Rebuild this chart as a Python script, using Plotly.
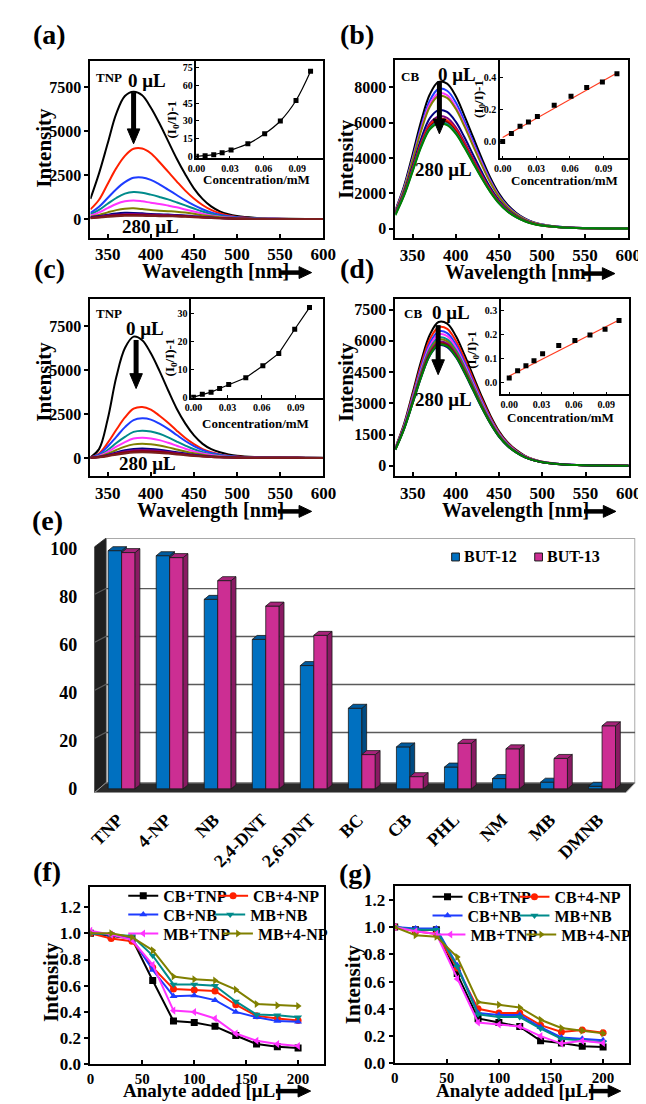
import plotly.graph_objects as go

FIG_W, FIG_H = 646, 1104
SERIF = "Liberation Serif, Times New Roman, serif"

# ---------------- data: emission spectra ----------------
WL = [330, 340, 350, 360, 370, 380, 390, 400, 410, 420, 430, 440, 450, 460, 470,
      480, 490, 500, 520, 540, 560, 580, 600]

SPEC_A = [
    [1150, 2600, 4300, 6000, 7000, 7250, 7050, 6350, 5450, 4450, 3450, 2550, 1750, 1150, 720, 440, 270, 170, 70, 35, 20, 10, 5],
    [550, 1100, 2000, 2900, 3600, 4000, 4020, 3750, 3250, 2700, 2150, 1620, 1170, 800, 520, 330, 200, 120, 50, 22, 10, 5, 0],
    [350, 700, 1200, 1700, 2100, 2350, 2370, 2230, 1980, 1680, 1370, 1060, 790, 560, 380, 250, 160, 100, 45, 20, 10, 5, 0],
    [260, 520, 870, 1200, 1450, 1540, 1500, 1390, 1260, 1120, 950, 780, 600, 430, 290, 190, 120, 75, 35, 15, 8, 4, 0],
    [200, 380, 620, 860, 1010, 1060, 1010, 930, 860, 770, 670, 550, 430, 310, 210, 140, 90, 55, 25, 12, 6, 3, 0],
    [130, 240, 380, 510, 590, 610, 570, 510, 480, 450, 420, 370, 300, 220, 160, 110, 70, 45, 20, 10, 5, 3, 0],
    [100, 170, 250, 320, 355, 350, 325, 295, 275, 255, 235, 205, 165, 125, 90, 60, 40, 25, 12, 6, 3, 2, 0],
    [80, 140, 200, 250, 280, 285, 270, 250, 235, 220, 205, 180, 145, 110, 80, 55, 35, 22, 10, 5, 3, 2, 0],
    [60, 110, 160, 200, 225, 230, 220, 205, 195, 185, 175, 155, 125, 95, 70, 50, 32, 20, 10, 5, 3, 2, 0],
    [50, 90, 130, 165, 185, 190, 185, 175, 165, 160, 150, 135, 110, 85, 62, 45, 30, 18, 9, 5, 3, 2, 0],
]
COLORS_A = ["#000000", "#FF2000", "#1E3CFF", "#008B8B", "#FF33FF", "#808000",
            "#000080", "#800080", "#8B0000", "#7A1E1E"]

SPEC_B = [
    [1050, 2400, 4200, 6100, 7600, 8300, 8200, 7500, 6400, 5200, 4000, 2900, 2000, 1350, 900, 580, 370, 240, 110, 50, 25, 12, 5],
    [1000, 2300, 4000, 5800, 7250, 7900, 7800, 7150, 6100, 4950, 3800, 2760, 1900, 1280, 850, 550, 350, 230, 105, 48, 24, 12, 5],
    [980, 2250, 3900, 5650, 7050, 7650, 7550, 6900, 5900, 4800, 3700, 2680, 1850, 1240, 830, 540, 340, 225, 100, 46, 23, 11, 5],
    [960, 2200, 3850, 5550, 6900, 7500, 7400, 6780, 5800, 4700, 3620, 2620, 1810, 1220, 810, 525, 335, 220, 100, 45, 22, 11, 5],
    [900, 2050, 3550, 5100, 6250, 6700, 6600, 6050, 5180, 4200, 3230, 2340, 1620, 1090, 730, 470, 300, 195, 90, 40, 20, 10, 5],
    [870, 1980, 3420, 4900, 5950, 6350, 6260, 5740, 4910, 3980, 3060, 2220, 1540, 1040, 690, 450, 285, 185, 85, 38, 19, 10, 5],
    [850, 1950, 3380, 4820, 5850, 6220, 6120, 5610, 4800, 3890, 2990, 2170, 1500, 1010, 675, 440, 280, 180, 83, 37, 18, 9, 4],
    [830, 1920, 3330, 4750, 5760, 6120, 6020, 5520, 4720, 3830, 2940, 2130, 1480, 995, 665, 430, 275, 178, 82, 37, 18, 9, 4],
    [810, 1890, 3280, 4680, 5680, 6020, 5920, 5430, 4640, 3760, 2890, 2100, 1450, 980, 655, 425, 270, 175, 80, 36, 18, 9, 4],
    [760, 1850, 3230, 4620, 5620, 5950, 5850, 5370, 4590, 3720, 2860, 2080, 1440, 970, 650, 420, 268, 173, 80, 36, 18, 9, 4],
]
COLORS_B = ["#000000", "#1E3CFF", "#FF33FF", "#808000", "#000080", "#800080",
            "#FF2000", "#8B0000", "#008B8B", "#008000"]

SPEC_C = [
    [30, 500, 2200, 4600, 6250, 6900, 6700, 5950, 4950, 3850, 2800, 1950, 1280, 800, 500, 320, 200, 120, 50, 25, 12, 6, 3],
    [20, 250, 850, 1600, 2300, 2800, 2900, 2750, 2400, 2000, 1550, 1130, 780, 500, 320, 200, 120, 75, 30, 15, 8, 4, 0],
    [15, 200, 650, 1200, 1750, 2150, 2250, 2180, 1950, 1650, 1300, 960, 670, 440, 280, 180, 110, 70, 30, 15, 8, 4, 0],
    [10, 140, 450, 850, 1200, 1480, 1550, 1500, 1370, 1170, 930, 700, 490, 330, 210, 135, 85, 55, 25, 12, 6, 3, 0],
    [8, 110, 340, 640, 900, 1100, 1150, 1110, 1010, 860, 690, 520, 370, 250, 160, 100, 65, 40, 18, 9, 5, 2, 0],
    [6, 80, 240, 450, 640, 770, 800, 770, 700, 600, 480, 360, 260, 175, 110, 70, 45, 28, 12, 6, 3, 2, 0],
    [5, 60, 170, 310, 430, 510, 530, 510, 465, 400, 320, 245, 175, 120, 78, 50, 32, 20, 9, 4, 2, 1, 0],
    [4, 50, 140, 260, 360, 430, 450, 435, 395, 340, 275, 210, 150, 100, 66, 42, 27, 17, 8, 4, 2, 1, 0],
    [3, 40, 120, 220, 305, 365, 380, 365, 335, 290, 235, 180, 130, 87, 57, 37, 24, 15, 7, 3, 2, 1, 0],
    [3, 35, 100, 185, 255, 305, 320, 310, 285, 245, 200, 152, 110, 74, 48, 31, 20, 13, 6, 3, 2, 1, 0],
]
COLORS_C = COLORS_A

SPEC_D = [
    [870, 2000, 3500, 5050, 6300, 6900, 6820, 6230, 5320, 4320, 3320, 2410, 1660, 1120, 750, 480, 310, 200, 92, 42, 21, 10, 4],
    [850, 1940, 3380, 4870, 6080, 6650, 6570, 6000, 5130, 4160, 3200, 2320, 1600, 1080, 720, 465, 300, 192, 88, 40, 20, 10, 4],
    [840, 1900, 3300, 4740, 5900, 6450, 6370, 5820, 4980, 4040, 3100, 2250, 1550, 1050, 700, 450, 290, 186, 86, 39, 19, 10, 4],
    [830, 1870, 3230, 4630, 5760, 6300, 6220, 5690, 4860, 3950, 3030, 2200, 1520, 1020, 685, 440, 283, 182, 84, 38, 19, 9, 4],
    [820, 1840, 3170, 4530, 5630, 6150, 6070, 5550, 4750, 3860, 2960, 2150, 1480, 1000, 670, 430, 276, 178, 82, 37, 18, 9, 4],
    [810, 1820, 3120, 4460, 5540, 6050, 5970, 5460, 4670, 3790, 2910, 2110, 1460, 985, 660, 423, 272, 175, 80, 36, 18, 9, 4],
    [800, 1800, 3080, 4390, 5450, 5950, 5870, 5370, 4590, 3730, 2860, 2080, 1430, 970, 650, 416, 267, 172, 79, 36, 18, 9, 4],
    [790, 1780, 3040, 4330, 5380, 5870, 5790, 5300, 4530, 3680, 2820, 2050, 1410, 955, 640, 410, 263, 170, 78, 35, 17, 9, 4],
    [780, 1760, 3000, 4270, 5300, 5780, 5700, 5220, 4460, 3620, 2780, 2020, 1390, 940, 630, 404, 259, 167, 77, 35, 17, 8, 4],
    [760, 1750, 3000, 4280, 5320, 5820, 5740, 5250, 4490, 3650, 2800, 2030, 1400, 945, 635, 406, 260, 168, 77, 35, 17, 8, 4],
]
COLORS_D = ["#000000", "#FF2000", "#1E3CFF", "#FF33FF", "#008B8B", "#808000",
            "#800080", "#8B0000", "#000080", "#008000"]

# ---------------- data: Stern-Volmer insets ----------------
CONC = [0, 0.0078, 0.0155, 0.023, 0.031, 0.046, 0.061, 0.075, 0.089, 0.102]
SV_A = [0.3, 0.8, 1.7, 3.3, 5.6, 10.8, 19.2, 30.0, 47.2, 71.7]
SV_B = [0.0, 0.05, 0.095, 0.12, 0.155, 0.225, 0.28, 0.335, 0.37, 0.42]
SV_C = [0.2, 1.2, 2.0, 3.3, 4.7, 7.1, 11.4, 15.8, 24.4, 32.1]
SV_D = [0.02, 0.05, 0.071, 0.091, 0.12, 0.154, 0.175, 0.198, 0.221, 0.258]
FIT_X = [0, 0.102]
FIT_B = [0.025, 0.425]
FIT_D = [0.028, 0.26]

# ---------------- data: quenching efficiency bars ----------------
ANALYTES = ["TNP", "4-NP", "NB", "2,4-DNT", "2,6-DNT", "BC", "CB", "PHL", "NM", "MB", "DMNB"]
BUT12 = [99.3, 97.2, 79.0, 62.3, 51.4, 33.6, 17.5, 9.1, 4.3, 2.8, 1.1]
BUT13 = [98.5, 96.4, 86.8, 76.2, 64.0, 14.3, 5.1, 19.0, 16.7, 12.7, 26.3]

# ---------------- data: competitive quenching ----------------
ADDED = [0, 20, 40, 60, 80, 100, 120, 140, 160, 180, 200]
MIX_NAMES = ["CB+TNP", "CB+4-NP", "CB+NB", "MB+NB", "MB+TNP", "MB+4-NP"]
MIX_COLORS = ["#000000", "#FF2000", "#1E3CFF", "#008B8B", "#FF33FF", "#808000"]
MIX_SYMBOLS = ["square", "circle", "triangle-up", "triangle-down", "triangle-left", "triangle-right"]
F_CB_TNP = [1.0, 0.98, 0.96, 0.64, 0.33, 0.32, 0.29, 0.22, 0.155, 0.135, 0.125]
F_CB_4NP = [1.0, 0.96, 0.94, 0.74, 0.575, 0.568, 0.56, 0.455, 0.37, 0.35, 0.335]
F_CB_NB = [1.0, 0.99, 0.96, 0.72, 0.52, 0.525, 0.49, 0.40, 0.36, 0.33, 0.325]
F_MB_NB = [1.0, 0.99, 0.98, 0.83, 0.61, 0.61, 0.60, 0.48, 0.38, 0.375, 0.36]
F_MB_TNP = [1.02, 0.99, 0.95, 0.76, 0.41, 0.40, 0.35, 0.235, 0.18, 0.155, 0.14]
F_MB_4NP = [1.0, 1.0, 0.97, 0.87, 0.67, 0.65, 0.64, 0.57, 0.46, 0.45, 0.445]
G_CB_TNP = [1.0, 0.98, 0.98, 0.66, 0.33, 0.30, 0.27, 0.165, 0.15, 0.125, 0.12]
G_CB_4NP = [1.0, 0.97, 0.95, 0.70, 0.40, 0.37, 0.37, 0.28, 0.23, 0.245, 0.225]
G_CB_NB = [1.0, 0.99, 0.99, 0.72, 0.37, 0.355, 0.355, 0.265, 0.19, 0.18, 0.17]
G_MB_NB = [1.0, 0.98, 0.98, 0.71, 0.36, 0.34, 0.34, 0.255, 0.18, 0.165, 0.155]
G_MB_TNP = [1.0, 0.97, 0.95, 0.62, 0.30, 0.285, 0.27, 0.20, 0.145, 0.165, 0.15]
G_MB_4NP = [1.0, 0.94, 0.93, 0.78, 0.45, 0.43, 0.41, 0.32, 0.26, 0.24, 0.22]
F_SERIES = [F_CB_TNP, F_CB_4NP, F_CB_NB, F_MB_NB, F_MB_TNP, F_MB_4NP]
G_SERIES = [G_CB_TNP, G_CB_4NP, G_CB_NB, G_MB_NB, G_MB_TNP, G_MB_4NP]

# ---------------- helpers ----------------
def PX(x):
    return x / FIG_W


def PY(y):
    return 1 - y / FIG_H


def dom_x(l, r):
    return [PX(l), PX(r)]


def dom_y(t, b):
    return [PY(b), PY(t)]


def tfont(size):
    return dict(family=SERIF, size=size, color="black", weight="bold")


def main_axis(domain, rng, tickvals, size, **kw):
    d = dict(domain=domain, range=rng, tickvals=tickvals, showline=True, linewidth=2,
             linecolor="black", mirror=True, ticks="outside", ticklen=4, tickwidth=1.5,
             tickcolor="black", showgrid=False, zeroline=False, tickfont=tfont(size))
    d.update(kw)
    return d


def inset_axis(domain, rng, tickvals, ticktext, **kw):
    d = dict(domain=domain, range=rng, tickvals=tickvals, ticktext=ticktext, showline=True,
             linewidth=1.5, linecolor="black", mirror=True, ticks="inside", ticklen=3,
             tickwidth=1, tickcolor="black", showgrid=False, zeroline=False, tickfont=tfont(10))
    d.update(kw)
    return d


def ann(text, x, y, size, angle=0, xanchor="center"):
    return dict(text="<b>" + text + "</b>", x=PX(x), y=PY(y), xref="paper", yref="paper",
                showarrow=False, font=dict(family=SERIF, size=size, color="black"),
                xanchor=xanchor, yanchor="middle", textangle=angle)


def arrow_shapes(xs, ys, xt, yt, shaft, head_w, head_l):
    dx, dy = xt - xs, yt - ys
    n = (dx * dx + dy * dy) ** 0.5
    ux, uy = dx / n, dy / n
    bx, by = xt - ux * head_l, yt - uy * head_l
    nx, ny = -uy, ux
    line = dict(type="line", xref="paper", yref="paper", x0=PX(xs), y0=PY(ys),
                x1=PX(bx + ux * 1), y1=PY(by + uy * 1), line=dict(color="black", width=shaft))
    p1 = (bx + nx * head_w / 2, by + ny * head_w / 2)
    p2 = (bx - nx * head_w / 2, by - ny * head_w / 2)
    path = "M {:.5f},{:.5f} L {:.5f},{:.5f} L {:.5f},{:.5f} Z".format(
        PX(xt), PY(yt), PX(p1[0]), PY(p1[1]), PX(p2[0]), PY(p2[1]))
    head = dict(type="path", xref="paper", yref="paper", path=path, fillcolor="black",
                line=dict(color="black", width=1))
    return [line, head]


fig = go.Figure()

# ---------------- spectra panels ----------------
panels = [
    (SPEC_A, COLORS_A, "x", "y"),
    (SPEC_B, COLORS_B, "x3", "y3"),
    (SPEC_C, COLORS_C, "x5", "y5"),
    (SPEC_D, COLORS_D, "x7", "y7"),
]
for spec, cols, xa, ya in panels:
    for vals, col in zip(spec, cols):
        fig.add_trace(go.Scatter(x=WL, y=vals, mode="lines", line=dict(color=col, width=2, shape="spline"),
                                 xaxis=xa, yaxis=ya, showlegend=False, hoverinfo="skip"))

# insets
fig.add_trace(go.Scatter(x=CONC, y=SV_A, mode="lines+markers", line=dict(color="black", width=1.2, shape="spline"),
                         marker=dict(symbol="square", size=5, color="black"), xaxis="x2", yaxis="y2", showlegend=False))
fig.add_trace(go.Scatter(x=FIT_X, y=FIT_B, mode="lines", line=dict(color="#FF3B1F", width=1.2),
                         xaxis="x4", yaxis="y4", showlegend=False))
fig.add_trace(go.Scatter(x=CONC, y=SV_B, mode="markers", marker=dict(symbol="square", size=5, color="black"),
                         xaxis="x4", yaxis="y4", showlegend=False))
fig.add_trace(go.Scatter(x=CONC, y=SV_C, mode="lines+markers", line=dict(color="black", width=1.2),
                         marker=dict(symbol="square", size=5, color="black"), xaxis="x6", yaxis="y6", showlegend=False))
fig.add_trace(go.Scatter(x=FIT_X, y=FIT_D, mode="lines", line=dict(color="#FF3B1F", width=1.2),
                         xaxis="x8", yaxis="y8", showlegend=False))
fig.add_trace(go.Scatter(x=CONC, y=SV_D, mode="markers", marker=dict(symbol="square", size=5, color="black"),
                         xaxis="x8", yaxis="y8", showlegend=False))

# ---------------- 3D-style bar chart (e) ----------------
BW, DX, DY = 0.28, 0.10, 1.65
XL_F, XL_B, XR_F, XR_B = -0.569, -0.328, 10.49, 10.69
V_FLOOR_F, V_FLOOR_B, V_TOP_F, V_TOP_B = -1.65, 2.5, 100.8, 104.5
GRID_VALS = [20, 40, 60, 80]
GRID_DY = 3.5


def poly_trace(xs, ys, fill, line="#1a1a1a", lw=0.8):
    return go.Scatter(x=xs, y=ys, mode="lines", fill="toself", fillcolor=fill,
                      line=dict(color=line, width=lw), xaxis="x9", yaxis="y9",
                      showlegend=False, hoverinfo="skip")


# walls
fig.add_trace(poly_trace([XL_B, XR_B, XR_B, XL_B, XL_B], [V_FLOOR_B, V_FLOOR_B, V_TOP_B, V_TOP_B, V_FLOOR_B],
                         "white", line="#8c8c8c", lw=1.5))
fig.add_trace(poly_trace([XL_F, XL_F, XL_B, XL_B, XL_F], [V_FLOOR_F, V_TOP_F, V_TOP_B, V_FLOOR_B, V_FLOOR_F],
                         "#202020", line="#202020"))
fig.add_trace(poly_trace([XL_F, XR_F, XR_B, XL_B, XL_F], [V_FLOOR_F, V_FLOOR_F, V_FLOOR_B, V_FLOOR_B, V_FLOOR_F],
                         "#2a2a2a", line="#9a9a9a", lw=1))
gx, gy = [], []
for g in GRID_VALS:
    gx += [XL_F, XL_B, XR_B, None]
    gy += [g + 1.0, g + GRID_DY, g + GRID_DY, None]
fig.add_trace(go.Scatter(x=gx, y=gy, mode="lines", line=dict(color="#5a5a5a", width=1.3),
                         xaxis="x9", yaxis="y9", showlegend=False, hoverinfo="skip"))


def faces(x_left, vals):
    fx, fy, sx, sy, tx, ty = [], [], [], [], [], []
    for xl, v in zip(x_left, vals):
        fx += [xl, xl + BW, xl + BW, xl, xl, None]
        fy += [0, 0, v, v, 0, None]
        sx += [xl + BW, xl + BW + DX, xl + BW + DX, xl + BW, xl + BW, None]
        sy += [0, DY, v + DY, v, 0, None]
        tx += [xl, xl + BW, xl + BW + DX, xl + DX, xl, None]
        ty += [v, v, v + DY, v + DY, v, None]
    return (fx, fy), (sx, sy), (tx, ty)


idx = list(range(len(ANALYTES)))
for vals, offs, cfront, cside, ctop in [
    (BUT12, -BW, "#0070C0", "#004B82", "#005B9F"),
    (BUT13, 0.0, "#CC2E93", "#8A1A63", "#A7237A"),
]:
    (fx, fy), (sx, sy), (tx, ty) = faces([i + offs for i in idx], vals)
    fig.add_trace(poly_trace(fx, fy, cfront))
    fig.add_trace(poly_trace(sx, sy, cside))
    fig.add_trace(poly_trace(tx, ty, ctop))

# ---------------- competitive quenching (f), (g) ----------------
LEG_F = [(110, 896), (203, 896), (110, 915), (200, 915), (110, 934), (208, 934)]
LEG_G = [(425, 897), (515, 897), (425, 916), (515, 916), (428, 935), (522, 935)]
legend_keys = []
for p, (series, xa, ya) in enumerate([(F_SERIES, "x10", "y10"), (G_SERIES, "x11", "y11")]):
    for k, (vals, name, col, sym) in enumerate(zip(series, MIX_NAMES, MIX_COLORS, MIX_SYMBOLS)):
        n = p * 6 + k + 1
        key = "legend" if n == 1 else "legend{}".format(n)
        legend_keys.append(key)
        fig.add_trace(go.Scatter(x=ADDED, y=vals, mode="lines+markers", name=name,
                                 line=dict(color=col, width=2),
                                 marker=dict(symbol=sym, size=7, color=col),
                                 xaxis=xa, yaxis=ya, legend=key))

# ---------------- layout ----------------
layout = dict(
    width=FIG_W, height=FIG_H, autosize=False,
    margin=dict(l=0, r=0, t=0, b=0),
    paper_bgcolor="white", plot_bgcolor="white",
    font=dict(family=SERIF, color="black"),
    showlegend=True,
)

WL_TICKS = [350, 400, 450, 500, 550, 600]
layout["xaxis"] = main_axis(dom_x(76, 317), [330, 600], WL_TICKS, 17, anchor="y", ticks="inside")
layout["yaxis"] = main_axis(dom_y(53, 232), [-1071, 9023], [0, 2500, 5000, 7500], 16, anchor="x")
layout["xaxis3"] = main_axis(dom_x(391.7, 632.7), [330, 600], WL_TICKS, 17, anchor="y3", ticks="inside")
layout["yaxis3"] = main_axis(dom_y(52.3, 232.3), [-540, 9550], [0, 2000, 4000, 6000, 8000], 16, anchor="x3")
layout["xaxis5"] = main_axis(dom_x(76, 317.3), [330, 600], WL_TICKS, 17, anchor="y5", ticks="inside")
layout["yaxis5"] = main_axis(dom_y(294, 472.7), [-1054, 9023], [0, 2500, 5000, 7500], 16, anchor="x5")
layout["xaxis7"] = main_axis(dom_x(391.7, 633.3), [330, 600], WL_TICKS, 17, anchor="y7", ticks="inside")
layout["yaxis7"] = main_axis(dom_y(294, 472.7), [-510, 7990], [0, 1500, 3000, 4500, 6000, 7500], 16, anchor="x7")

CT = [0, 0.03, 0.06, 0.09]
CTT = ["0.00", "0.03", "0.06", "0.09"]
layout["xaxis2"] = inset_axis(dom_x(185.7, 317), [0, 0.1133], CT, CTT, anchor="y2")
layout["yaxis2"] = inset_axis(dom_y(53, 151.7), [-1.4, 80.8], [0, 15, 30, 45, 60, 75], None, anchor="x2")
layout["xaxis4"] = inset_axis(dom_x(500, 632.7), [-0.0024, 0.112], CT, CTT, anchor="y4")
layout["yaxis4"] = inset_axis(dom_y(52.3, 151.7), [-0.105, 0.507], [0, 0.2, 0.4], ["0.0", "0.2", "0.4"], anchor="x4")
layout["xaxis6"] = inset_axis(dom_x(180.3, 317.3), [-0.002, 0.1143], CT, CTT, anchor="y6")
layout["yaxis6"] = inset_axis(dom_y(294, 393.3), [0, 35.05], [0, 10, 20, 30], None, anchor="x6")
layout["xaxis8"] = inset_axis(dom_x(501, 633.3), [-0.0077, 0.111], CT, CTT, anchor="y8")
layout["yaxis8"] = inset_axis(dom_y(294, 390), [-0.048, 0.345], [0, 0.1, 0.2, 0.3], ["0.0", "0.1", "0.2", "0.3"], anchor="x8")

layout["xaxis9"] = dict(domain=dom_x(80, 640), range=[XL_F, XR_B], tickvals=[i - 0.08 for i in idx],
                        ticktext=ANALYTES, tickangle=-45, showline=False, showgrid=False, zeroline=False,
                        ticks="", ticklabelstandoff=12, tickfont=tfont(18), anchor="y9")
layout["yaxis9"] = dict(domain=dom_y(535, 792), range=[V_FLOOR_F, V_TOP_B], tickvals=[0, 20, 40, 60, 80, 100],
                        showline=False, showgrid=False, zeroline=False, ticks="", ticklabelstandoff=16,
                        tickfont=tfont(18), anchor="x9")

ADD_TICKS = [0, 50, 100, 150, 200]
Y_TICKS = [0, 0.2, 0.4, 0.6, 0.8, 1.0, 1.2]
Y_TT = ["0.0", "0.2", "0.4", "0.6", "0.8", "1.0", "1.2"]
layout["xaxis10"] = main_axis(dom_x(76, 318.3), [0, 225.4], ADD_TICKS, 15, anchor="y10", ticks="inside")
layout["yaxis10"] = main_axis(dom_y(886.7, 1066), [0, 1.356], Y_TICKS, 17, ticktext=Y_TT, anchor="x10")
layout["xaxis11"] = main_axis(dom_x(391, 633.3), [0, 224.6], ADD_TICKS, 15, anchor="y11", ticks="inside")
layout["yaxis11"] = main_axis(dom_y(885.7, 1065), [0, 1.304], Y_TICKS, 17, ticktext=Y_TT, anchor="x11")

for key, (lx, ly) in zip(legend_keys, LEG_F + LEG_G):
    layout[key] = dict(x=PX(lx), y=PY(ly), xanchor="left", yanchor="middle", orientation="h",
                       bgcolor="rgba(0,0,0,0)", borderwidth=0, itemwidth=30,
                       font=dict(family=SERIF, size=16, color="black", weight="bold"))

annotations = []
# panel letters
for lab, x, y in [("(a)", 34, 27), ("(b)", 352, 27), ("(c)", 34, 263), ("(d)", 352, 263),
                  ("(e)", 32, 517), ("(f)", 31, 871), ("(g)", 350, 873)]:
    annotations.append(ann(lab, x, y, 28))
# axis titles
for x, y in [(28, 141), (340, 152), (28, 377), (340, 377), (35, 983), (348, 985)]:
    annotations.append(ann("Intensity", x, y, 21, angle=-90))
shapes = []
for x0, y, xa0, xa1 in [(127, 266, 272, 305), (441, 267, 587, 619), (122, 507, 270, 305), (438, 507, 587, 620)]:
    annotations.append(ann("Wavelength [nm]", x0, y, 20, xanchor="left"))
    shapes += arrow_shapes(xa0, y + 1, xa1, y + 1, 4.5, 12, 13)
for x0, y, xa0, xa1 in [(108, 1092, 268, 304), (432, 1092, 592, 625)]:
    annotations.append(ann("Analyte added [μL]", x0, y, 19, xanchor="left"))
    shapes += arrow_shapes(xa0, y + 1, xa1, y + 1, 4.5, 12, 13)
# inset titles
for x, y in [(248, 173), (567, 174), (247, 419), (563, 413)]:
    annotations.append(ann("Concentration/mM", x, y, 13))
for x, y in [(162, 112), (478, 92), (159, 353), (472, 345)]:
    annotations.append(ann("(I<sub>0</sub>/I)-1", x, y, 13, angle=-90))
# spectra labels
for t, x, y, s in [("TNP", 95, 70, 13), ("0 μL", 135, 73, 19), ("280 μL", 138, 220, 19),
                   ("CB", 407, 69, 13), ("0 μL", 456, 67, 19), ("280 μL", 442, 163, 19),
                   ("TNP", 95, 308, 13), ("0 μL", 132, 323, 19), ("280 μL", 135, 460, 19),
                   ("CB", 410, 308, 13), ("0 μL", 449, 307, 19), ("280 μL", 442, 395, 19)]:
    annotations.append(ann(t, x, y, s))
for xt, ys, yt in [(120.7, 85, 137), (437.3, 74, 127), (123.3, 335, 384), (436, 320, 370)]:
    shapes += arrow_shapes(xt, ys, xt, yt, 5, 13, 15)
# bar legend
annotations.append(ann("BUT-12", 461, 554, 16, xanchor="left"))
annotations.append(ann("BUT-13", 547, 554, 16, xanchor="left"))
shapes += [
    dict(type="rect", xref="paper", yref="paper", x0=PX(450), x1=PX(458), y0=PY(558), y1=PY(550),
         fillcolor="#0070C0", line=dict(color="#1a1a1a", width=1)),
    dict(type="rect", xref="paper", yref="paper", x0=PX(536), x1=PX(544), y0=PY(558), y1=PY(550),
         fillcolor="#CC2E93", line=dict(color="#1a1a1a", width=1)),
]
layout["annotations"] = annotations
layout["shapes"] = shapes

fig.update_layout(**layout)
fig.write_html("out.html")
